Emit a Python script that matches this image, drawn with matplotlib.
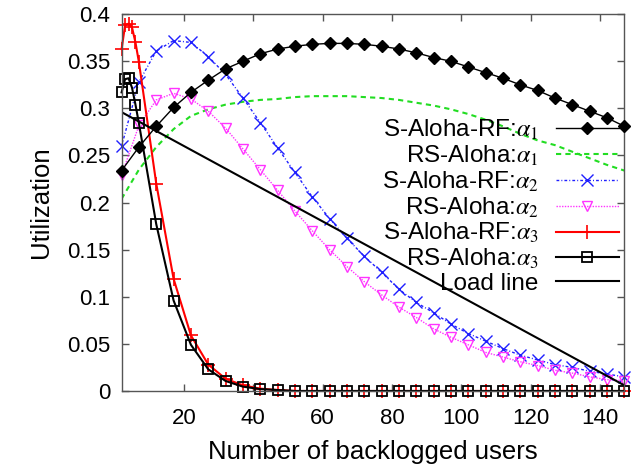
import matplotlib
matplotlib.use('Agg')
import matplotlib.pyplot as plt
from matplotlib.ticker import FormatStrFormatter

plt.rcParams['font.family'] = ['Liberation Sans', 'DejaVu Sans']
plt.rcParams['mathtext.fontset'] = 'stix'

# x grid every 5 users, starting at 2
x5 = list(range(2, 148, 5))

# S-Aloha-RF: alpha_1
s_rf_a1 = [0.234, 0.259, 0.281, 0.301, 0.317, 0.330, 0.342, 0.350, 0.358, 0.363,
           0.366, 0.368, 0.369, 0.369, 0.368, 0.366, 0.363, 0.359, 0.354, 0.350,
           0.344, 0.338, 0.332, 0.325, 0.319, 0.311, 0.304, 0.297, 0.290, 0.281]

# RS-Aloha: alpha_1
rs_a1 = [0.204, 0.235, 0.259, 0.278, 0.292, 0.299, 0.304, 0.307, 0.309, 0.310,
         0.312, 0.313, 0.313, 0.313, 0.312, 0.311, 0.309, 0.306, 0.303, 0.299,
         0.294, 0.288, 0.281, 0.273, 0.266, 0.261, 0.254, 0.247, 0.240, 0.234]

# S-Aloha-RF: alpha_2
s_rf_a2 = [0.260, 0.328, 0.361, 0.372, 0.370, 0.355, 0.336, 0.311, 0.285, 0.258,
           0.232, 0.206, 0.183, 0.162, 0.143, 0.126, 0.108, 0.094, 0.083, 0.071,
           0.061, 0.053, 0.045, 0.038, 0.033, 0.028, 0.025, 0.021, 0.018, 0.015]

# RS-Aloha: alpha_2
rs_a2 = [0.229, 0.282, 0.309, 0.316, 0.310, 0.297, 0.279, 0.257, 0.235, 0.213,
         0.191, 0.170, 0.150, 0.132, 0.116, 0.102, 0.089, 0.078, 0.066, 0.057,
         0.049, 0.041, 0.036, 0.031, 0.027, 0.022, 0.019, 0.015, 0.012, 0.011]

# alpha_3 curves (dense at the start)
x_a3 = [2, 3, 4, 5, 6, 7] + list(range(12, 148, 5))
s_rf_a3 = [0.363, 0.388, 0.390, 0.386, 0.370, 0.349,
           0.220, 0.119, 0.059, 0.028, 0.013, 0.006, 0.0025, 0.001] + [0.0] * 20
rs_a3 = [0.317, 0.331, 0.332, 0.322, 0.304, 0.284,
         0.177, 0.096, 0.049, 0.023, 0.0106, 0.0046, 0.002, 0.001] + [0.0] * 20

# load line
load_x = [2, 147]
load_y = [0.296, 0.006]

fig = plt.figure(figsize=(6.4, 4.73), dpi=100)
ax = fig.add_axes([0.190, 0.1734, 0.7855, 0.7966])

ax.plot(x5, s_rf_a1, color='black', lw=1, marker='D', ms=6.5,
        label=r'S-Aloha-RF:$\alpha_1$', clip_on=False, zorder=5)
ax.plot(x5, rs_a1, color='#22dd22', lw=1.5, ls=(0, (2.5, 2)),
        label=r'RS-Aloha:$\alpha_1$')
ax.plot(x5, s_rf_a2, color='#1f1fff', lw=1, ls=(0, (2, 1.5, 0.7, 1.5)),
        marker='x', ms=8, mew=1, label=r'S-Aloha-RF:$\alpha_2$', clip_on=False)
ax.plot(x5, rs_a2, color='#ff33ff', lw=1, ls=(0, (1, 1)),
        marker='v', ms=7.5, mfc='none', mew=1, label=r'RS-Aloha:$\alpha_2$', clip_on=False)
ax.plot(x_a3, s_rf_a3, color='red', lw=1.5, marker='+', ms=10, mew=1.2,
        label=r'S-Aloha-RF:$\alpha_3$', clip_on=False)
ax.plot(x_a3, rs_a3, color='black', lw=1.5, marker='s', ms=7, mfc='none', mew=1.3,
        label=r'RS-Aloha:$\alpha_3$', clip_on=False)
ax.plot(load_x, load_y, color='black', lw=1.5, label='Load line')

ax.set_xlim(2, 147)
ax.set_ylim(0, 0.4)
ax.set_xticks([20, 40, 60, 80, 100, 120, 140])
ax.set_yticks([0, 0.05, 0.1, 0.15, 0.2, 0.25, 0.3, 0.35, 0.4])
ax.yaxis.set_major_formatter(FormatStrFormatter('%g'))
ax.tick_params(direction='in', length=5, width=1, top=True, right=True,
               labelsize=16, color='#555555')
ax.tick_params(axis='x', pad=12)
ax.tick_params(axis='y', pad=8)
for s in ax.spines.values():
    s.set_color('#555555')
    s.set_linewidth(1)

ax.set_xlabel('Number of backlogged users', fontsize=18.5, labelpad=8)
ax.set_ylabel('Utilization', fontsize=18.5, labelpad=10)

ax.legend(loc='upper right', bbox_to_anchor=(619 / 640, 1 - 118 / 473),
          bbox_transform=fig.transFigure, frameon=False, markerfirst=False,
          fontsize=17.5, handlelength=2.6, handletextpad=0.7, labelspacing=0.06,
          borderpad=0, borderaxespad=0)

fig.savefig('out.png', dpi=100)
